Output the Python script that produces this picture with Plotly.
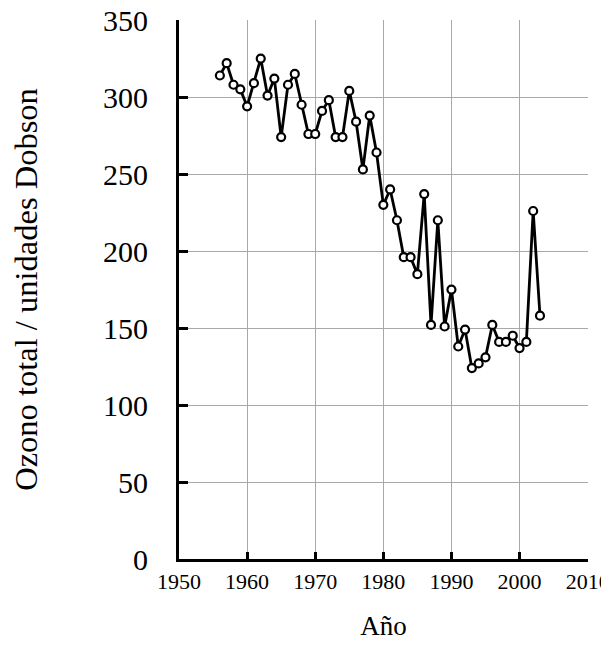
import plotly.graph_objects as go

years = [1956, 1957, 1958, 1959, 1960, 1961, 1962, 1963, 1964, 1965,
         1966, 1967, 1968, 1969, 1970, 1971, 1972, 1973, 1974, 1975,
         1976, 1977, 1978, 1979, 1980, 1981, 1982, 1983, 1984, 1985,
         1986, 1987, 1988, 1989, 1990, 1991, 1992, 1993, 1994, 1995,
         1996, 1997, 1998, 1999, 2000, 2001, 2002, 2003]
ozone = [314, 322, 308, 305, 294, 309, 325, 301, 312, 274,
         308, 315, 295, 276, 276, 291, 298, 274, 274, 304,
         284, 253, 288, 264, 230, 240, 220, 196, 196, 185,
         237, 152, 220, 151, 175, 138, 149, 124, 127, 131,
         152, 141, 141, 145, 137, 141, 226, 158]

x_ticks = [1950, 1960, 1970, 1980, 1990, 2000, 2010]
y_ticks = [0, 50, 100, 150, 200, 250, 300, 350]

FONT = "Times New Roman, Liberation Serif, serif"

fig = go.Figure()
fig.add_trace(go.Scatter(
    x=years, y=ozone, mode="lines+markers",
    line=dict(color="black", width=2.8),
    marker=dict(symbol="circle", size=8, color="white",
                line=dict(color="black", width=2.2)),
    showlegend=False,
))

fig.update_layout(
    width=609, height=654,
    margin=dict(l=171, r=29, t=12, b=103),
    paper_bgcolor="white", plot_bgcolor="white",
    font=dict(family=FONT, color="black"),
)
fig.update_xaxes(
    range=[1950, 2010.05], tickvals=x_ticks, ticktext=[str(v) for v in x_ticks],
    showgrid=True, gridcolor="#a8a8a8", gridwidth=1,
    showline=True, linecolor="black", linewidth=3,
    ticks="inside", ticklen=7, tickwidth=3, tickcolor="black",
    tickfont=dict(family=FONT, size=22, color="black"),
    ticklabelstandoff=1, ticklabeloverflow="allow",
    zeroline=False, automargin=False,
    title=dict(text="Año", font=dict(family=FONT, size=27, color="black"), standoff=23),
)
fig.update_yaxes(
    range=[0, 350.05], tickvals=y_ticks, ticktext=[str(v) for v in y_ticks],
    showgrid=True, gridcolor="#a8a8a8", gridwidth=1,
    showline=True, linecolor="black", linewidth=3,
    ticks="inside", ticklen=9, tickwidth=3, tickcolor="black",
    tickfont=dict(family=FONT, size=30, color="black"),
    ticklabelstandoff=22, ticklabeloverflow="allow",
    zeroline=False, automargin=False,
    title=dict(text="Ozono total / unidades Dobson", font=dict(family=FONT, size=32.5, color="black"), standoff=58),
)

fig.write_html("out.html")
